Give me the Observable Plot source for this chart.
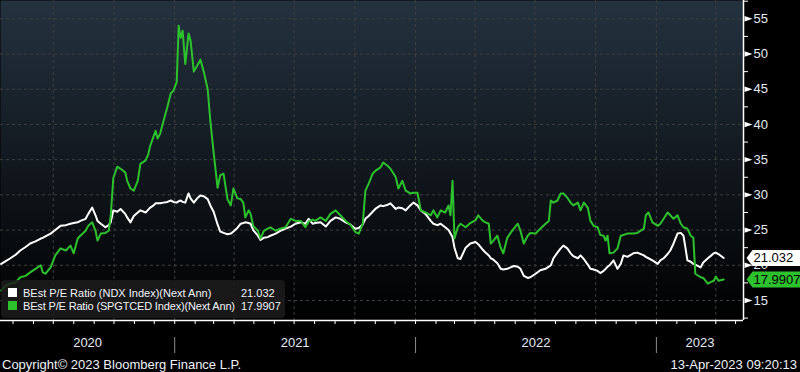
<!DOCTYPE html>
<html>
<head>
<meta charset="utf-8">
<script src="https://cdn.jsdelivr.net/npm/d3@7"></script>
<script src="https://cdn.jsdelivr.net/npm/@observablehq/plot@0.6"></script>
<style>
  html, body { margin: 0; padding: 0; background: #000; }
  #wrap { position: relative; width: 800px; height: 372px; background: #000; overflow: hidden;
          font-family: "Liberation Sans", Arial, sans-serif; color: #eef2f8; }
  #chart svg { display: block; }
  .legend { position: absolute; left: 1px; top: 280px; width: 284px; height: 38px;
            background: rgba(28,28,28,0.85); border-radius: 4px; box-sizing: border-box; padding-top: 7px; }
  .legend .row { position: relative; height: 13px; line-height: 13px; font-size: 11px; white-space: nowrap; color: #f2f4f8; }
  .legend .sw { position: absolute; left: 7px; top: 1px; width: 9px; height: 9px; }
  .legend .name { position: absolute; left: 22px; top: 0; }
  .legend .row.r1 .name { letter-spacing: -0.16px; }
  .legend .val { position: absolute; left: 240px; top: 0; }
  .caption { position: absolute; left: 0; top: 356px; width: 797px; height: 17px; line-height: 17px; font-size: 13px; }
  .caption .l { position: absolute; left: 2px; }
  .caption .r { position: absolute; right: 0; }
</style>
</head>
<body>
<div id="wrap">
  <div id="chart"></div>
  <div class="legend" id="legend"></div>
  <div class="caption"><span class="l" id="copy"></span><span class="r" id="stamp"></span></div>
</div>
<script>
// ---------------- data ----------------
const seriesNames = ["BEst P/E Ratio (NDX Index)(Next Ann)", "BEst P/E Ratio (SPGTCED Index)(Next Ann)"];
const seriesColors = ["#ffffff", "#2ec12e"];
const copyrightText = "Copyright\u00a9 2023 Bloomberg Finance L.P.";
const stampText = "13-Apr-2023 09:20:13";

const dates = [
"2020-04-13","2020-04-20","2020-04-27","2020-05-05","2020-05-12","2020-05-20","2020-05-27","2020-06-04","2020-06-12","2020-06-15",
"2020-06-19","2020-06-27","2020-07-04","2020-07-12","2020-07-20","2020-07-27","2020-08-01","2020-08-07","2020-08-11","2020-08-19",
"2020-08-23","2020-08-29","2020-09-03","2020-09-06","2020-09-11","2020-09-18","2020-09-23","2020-09-26","2020-09-30","2020-10-06",
"2020-10-11","2020-10-18","2020-10-21","2020-10-26","2020-10-31","2020-11-06","2020-11-10","2020-11-18","2020-11-22","2020-11-25",
"2020-11-30","2020-12-03","2020-12-06","2020-12-10","2020-12-15","2020-12-21","2020-12-26","2020-12-30","2021-01-04","2021-01-07",
"2021-01-10","2021-01-13","2021-01-17","2021-01-22","2021-01-25","2021-01-30","2021-02-05","2021-02-09","2021-02-14","2021-02-20",
"2021-02-24","2021-03-01","2021-03-07","2021-03-11","2021-03-16","2021-03-22","2021-03-27","2021-03-31","2021-04-06","2021-04-11",
"2021-04-15","2021-04-18","2021-04-23","2021-04-26","2021-04-30","2021-05-07","2021-05-11","2021-05-16","2021-05-22","2021-05-26",
"2021-06-03","2021-06-10","2021-06-18","2021-06-26","2021-07-03","2021-07-11","2021-07-18","2021-07-23","2021-07-29","2021-08-02",
"2021-08-10","2021-08-18","2021-08-25","2021-09-02","2021-09-09","2021-09-17","2021-09-24","2021-10-02","2021-10-07","2021-10-13",
"2021-10-17","2021-10-22","2021-10-28","2021-11-01","2021-11-09","2021-11-13","2021-11-20","2021-11-24","2021-12-02","2021-12-06",
"2021-12-12","2021-12-17","2021-12-24","2021-12-29","2022-01-04","2022-01-09","2022-01-16","2022-01-24","2022-01-28","2022-02-03",
"2022-02-08","2022-02-15","2022-02-20","2022-02-23","2022-02-26","2022-03-01","2022-03-06","2022-03-10","2022-03-18","2022-03-25",
"2022-04-02","2022-04-06","2022-04-13","2022-04-17","2022-04-22","2022-04-25","2022-04-29","2022-05-05","2022-05-10","2022-05-14",
"2022-05-20","2022-05-25","2022-05-30","2022-06-05","2022-06-09","2022-06-14","2022-06-20","2022-06-24","2022-07-02","2022-07-09",
"2022-07-17","2022-07-22","2022-07-25","2022-07-29","2022-08-04","2022-08-09","2022-08-13","2022-08-19","2022-08-24","2022-08-28",
"2022-09-04","2022-09-08","2022-09-13","2022-09-19","2022-09-23","2022-09-28","2022-10-04","2022-10-08","2022-10-13","2022-10-16",
"2022-10-19","2022-10-22","2022-10-28","2022-11-03","2022-11-08","2022-11-12","2022-11-18","2022-11-27","2022-12-03","2022-12-13",
"2022-12-16","2022-12-20","2022-12-26","2023-01-03","2023-01-07","2023-01-12","2023-01-18","2023-01-22","2023-01-27","2023-02-02",
"2023-02-07","2023-02-11","2023-02-14","2023-02-17","2023-02-22","2023-02-26","2023-03-01","2023-03-09","2023-03-13","2023-03-20",
"2023-03-24","2023-03-29","2023-04-01","2023-04-05","2023-04-13"
];

const ndxPE = [
20.2,20.6,21.0,21.5,22.1,22.6,23.1,23.4,23.8,23.9,
24.1,24.5,25.0,25.6,25.7,25.9,26.0,26.1,26.3,26.6,
27.3,28.2,27.1,26.3,25.9,25.4,25.7,26.1,27.8,27.6,
28.0,27.3,26.8,26.1,27.0,27.5,27.8,27.5,27.9,28.2,
28.5,28.8,28.8,28.8,28.9,29.0,29.2,29.0,28.9,29.1,
29.2,29.0,28.9,30.2,29.5,28.9,29.6,29.9,29.8,29.4,
28.5,27.6,25.8,24.8,24.6,24.4,24.5,24.8,25.3,25.9,
26.0,26.1,26.0,25.9,25.0,24.2,23.6,23.9,24.0,24.2,
24.5,24.9,25.2,25.5,25.9,26.1,25.9,26.6,25.9,26.0,
26.1,25.5,26.3,26.8,26.6,26.1,25.8,25.2,25.3,25.8,
26.6,27.0,27.6,28.0,28.5,28.4,28.6,28.8,28.0,28.2,
28.1,27.8,28.5,28.9,28.5,27.8,27.3,26.3,25.9,25.7,
25.9,25.4,25.0,24.5,24.0,22.5,21.0,20.9,22.5,23.1,
23.3,23.0,22.2,21.8,21.4,21.0,20.8,20.3,19.5,19.4,
19.5,19.7,19.9,19.8,19.5,18.5,18.2,18.3,18.8,19.3,
19.5,19.8,20.0,21.0,21.8,22.4,22.8,22.4,21.7,21.3,
21.0,21.4,20.9,20.1,19.5,19.4,19.2,18.9,19.2,19.5,
19.8,20.0,20.7,19.5,20.2,21.4,21.2,21.7,21.8,21.4,
21.2,21.0,20.7,20.2,20.7,21.0,21.6,22.1,23.1,24.5,
24.6,24.2,22.5,20.7,20.5,20.2,20.1,19.7,20.4,21.0,
21.3,21.7,21.8,21.6,21.032
];

const spgPE = [
16.4,17.1,17.4,17.6,18.3,18.5,19.0,19.5,20.0,19.0,
18.8,19.7,21.4,22.4,22.1,22.8,21.7,23.8,24.2,24.9,
25.6,26.1,24.9,23.5,24.5,24.6,24.9,27.0,32.4,34.0,
33.7,33.2,32.0,30.9,30.6,32.0,34.4,34.9,35.8,37.0,
38.3,39.1,38.0,38.7,40.5,42.5,44.4,44.8,46.0,54.0,
52.3,53.3,48.6,52.9,51.9,47.5,48.5,49.2,47.5,45.0,
40.5,36.0,31.0,32.8,33.0,29.4,28.5,30.9,29.5,29.4,
28.9,26.8,27.8,27.3,25.6,24.9,23.8,24.9,25.2,25.4,
24.9,25.2,25.4,26.6,26.3,26.3,25.4,26.2,26.5,26.3,
26.8,26.3,27.3,27.8,27.1,26.3,25.8,24.7,24.5,25.9,
30.6,31.6,33.0,33.4,33.9,34.6,34.1,33.7,32.5,30.9,
32.0,30.6,30.2,30.3,30.3,27.8,27.5,27.1,27.8,26.8,
27.8,27.5,28.5,27.1,32.0,23.8,25.4,25.9,25.4,26.0,
26.4,27.1,26.3,26.1,25.9,23.1,23.5,24.2,22.5,21.7,
23.9,24.6,25.2,25.9,24.9,23.1,24.2,24.6,24.5,25.2,
25.9,26.3,29.2,28.9,29.2,30.2,30.2,29.6,28.9,28.5,
28.9,27.8,28.9,28.2,26.3,25.6,25.4,24.3,24.2,23.5,
24.2,21.7,21.8,22.4,24.2,24.3,24.5,24.5,24.6,25.2,
27.1,27.5,26.1,25.6,25.9,26.6,27.5,27.1,26.6,27.1,
25.9,25.4,25.3,25.2,24.2,23.9,18.8,18.3,18.2,17.4,
17.6,17.8,18.4,17.8,17.9907
];

const yTicks = [15, 20, 25, 30, 35, 40, 45, 50, 55];
const yMinorTicks = [12.5, 17.5, 22.5, 27.5, 32.5, 37.5, 42.5, 47.5, 52.5, 57.5];
const quarterTicks = ["2020-07-01","2020-10-01","2021-01-01","2021-04-01","2021-07-01","2021-10-01",
                      "2022-01-01","2022-04-01","2022-07-01","2022-10-01","2023-01-01","2023-04-01"];
const yearStarts = ["2021-01-01","2022-01-01","2023-01-01"];
const yearLabels = ["2020","2021","2022","2023"];
const xDomain = ["2020-04-12","2023-05-13"];
const yDomain = [12.16, 57.6];

// ---------------- build ----------------
const parse = s => new Date(s + "T00:00:00Z");
const ndx = dates.map((d, i) => ({date: parse(d), value: ndxPE[i]}));
const spg = dates.map((d, i) => ({date: parse(d), value: spgPE[i]}));
const xd = xDomain.map(parse);
const monthTicks = d3.utcMonth.range(xd[0], xd[1]);
const yearMid = yearLabels.map(y => {
  const a = Math.max(+parse(y + "-01-01"), +xd[0]);
  const b = Math.min(+parse((+y + 1) + "-01-01"), +xd[1]);
  return {label: y, date: new Date((a + b) / 2)};
});
const lastNdx = ndx[ndx.length - 1];
const lastSpg = spg[spg.length - 1];

const arrowSym = {draw(ctx) { ctx.moveTo(1, -2.7); ctx.lineTo(9, 0); ctx.lineTo(1, 2.7); ctx.closePath(); }};
const boxSym = {draw(ctx) { ctx.moveTo(3, 0); ctx.lineTo(9, -8); ctx.lineTo(57, -8); ctx.lineTo(57, 8); ctx.lineTo(9, 8); ctx.closePath(); }};

const labelColor = "#e4ebf5";
const gridColor = "#3e3e3e";

const chart = Plot.plot({
  width: 800,
  height: 356,
  marginTop: 0,
  marginBottom: 36,
  marginLeft: 0,
  marginRight: 57,
  style: {background: "transparent", color: labelColor, fontFamily: "'Liberation Sans', Arial, sans-serif", fontSize: "13px", overflow: "visible"},
  x: {type: "utc", domain: xd, label: null},
  y: {domain: yDomain, label: null},
  marks: [
    Plot.frame({fill: "url(#bgGrad)", stroke: null}),
    Plot.gridY(yTicks, {stroke: gridColor, strokeOpacity: 1, strokeDasharray: "3,3"}),
    Plot.gridX(quarterTicks.map(parse), {stroke: gridColor, strokeOpacity: 1, strokeDasharray: "3,3"}),
    Plot.line(ndx, {x: "date", y: "value", stroke: seriesColors[0], strokeWidth: 2}),
    Plot.line(spg, {x: "date", y: "value", stroke: seriesColors[1], strokeWidth: 2}),
    Plot.ruleY([yDomain[0]], {stroke: "#fff", strokeWidth: 1.5}),
    Plot.ruleX([xd[1]], {stroke: "#fff", strokeWidth: 1.5}),
    Plot.axisX(monthTicks, {tickSize: 4, tickFormat: () => "", stroke: "#fff", label: null}),
    Plot.axisX(yearStarts.map(parse), {tickSize: 16, dy: 17, tickFormat: () => "", stroke: "#8c8c8c", label: null}),
    Plot.text(yearMid, {x: "date", text: "label", frameAnchor: "bottom", dy: 26, fill: labelColor, fontSize: 13}),
    Plot.axisY(yMinorTicks.filter(v => v > yDomain[0] && v < yDomain[1]), {anchor: "right", tickSize: 4, tickFormat: () => "", stroke: "#fff", label: null}),
    Plot.axisY(yTicks, {anchor: "right", tickSize: 0, tickPadding: 10, fill: labelColor, fontSize: 13, label: null}),
    Plot.dot(yTicks, {y: d => d, frameAnchor: "right", symbol: arrowSym, fill: "#fff", stroke: null}),
    Plot.dot([lastNdx], {y: "value", frameAnchor: "right", symbol: boxSym, fill: seriesColors[0], stroke: null}),
    Plot.text([lastNdx], {y: "value", frameAnchor: "right", text: d => String(d.value), dx: 10, textAnchor: "start", fill: "#000", fontSize: 13}),
    Plot.dot([lastSpg], {y: "value", frameAnchor: "right", symbol: boxSym, fill: seriesColors[1], stroke: null}),
    Plot.text([lastSpg], {y: "value", frameAnchor: "right", text: d => String(d.value), dx: 10, textAnchor: "start", fill: "#000", fontSize: 13})
  ]
});

const defs = d3.select(chart).insert("defs", ":first-child");
const grad = defs.append("linearGradient").attr("id", "bgGrad").attr("x1", 0).attr("y1", 0).attr("x2", 0).attr("y2", 1);
grad.append("stop").attr("offset", "0%").attr("stop-color", "#24323f");
grad.append("stop").attr("offset", "55%").attr("stop-color", "#10161c");
grad.append("stop").attr("offset", "100%").attr("stop-color", "#000000");

document.getElementById("chart").appendChild(chart);

// legend
const legend = document.getElementById("legend");
[lastNdx, lastSpg].forEach((last, i) => {
  const row = document.createElement("div");
  row.className = "row r" + i;
  row.innerHTML = `<span class="sw" style="background:${seriesColors[i]}"></span><span class="name"></span><span class="val"></span>`;
  row.querySelector(".name").textContent = seriesNames[i];
  row.querySelector(".val").textContent = String(last.value);
  legend.appendChild(row);
});
document.getElementById("copy").textContent = copyrightText;
document.getElementById("stamp").textContent = stampText;
</script>
</body>
</html>
